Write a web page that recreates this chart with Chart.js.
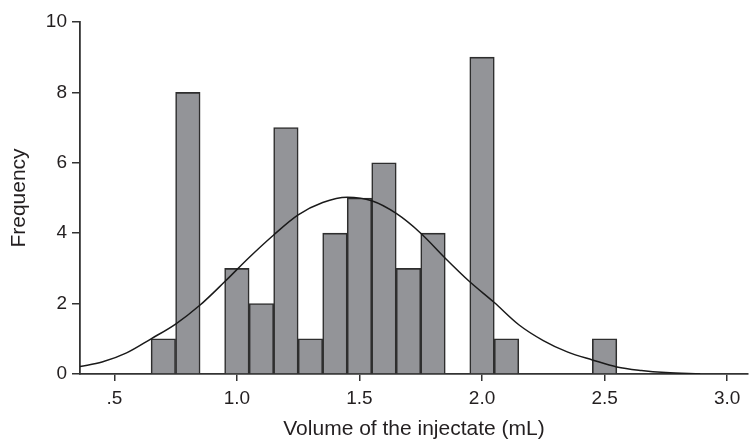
<!DOCTYPE html>
<html>
<head>
<meta charset="utf-8">
<script src="https://cdn.jsdelivr.net/npm/chart.js@4/dist/chart.umd.min.js"></script>
<style>
  html, body { margin: 0; padding: 0; background: #fff; }
  #wrap { width: 749px; height: 440px; position: relative; }
</style>
</head>
<body>
<div id="wrap"><canvas id="hist"></canvas></div>
<script>
// histogram bins (bin centre, mL) and counts
const binCenters = [0.7, 0.8, 1.0, 1.1, 1.2, 1.3, 1.4, 1.5, 1.6, 1.7, 1.8, 2.0, 2.1, 2.5];
const binCounts  = [1,   8,   3,   2,   7,   1,   4,   5,   6,   3,   4,   9,   1,   1];

// fitted normal curve
const curveX = [0.36, 0.45, 0.55, 0.65, 0.75, 0.85, 0.95, 1.05, 1.15, 1.25, 1.35, 1.45, 1.55, 1.65, 1.75, 1.85, 1.95, 2.05, 2.15, 2.25, 2.35, 2.45, 2.55, 2.65, 2.75, 2.89];
const curveY = [0.21, 0.34, 0.6, 1.0, 1.42, 1.96, 2.62, 3.31, 3.95, 4.52, 4.87, 5.02, 4.92, 4.56, 4.0, 3.29, 2.62, 2.03, 1.4, 0.95, 0.62, 0.4, 0.2, 0.1, 0.04, 0.0];

// axis ticks
const xTicks = [0.5, 1.0, 1.5, 2.0, 2.5, 3.0];
const xTickLabels = ['.5', '1.0', '1.5', '2.0', '2.5', '3.0'];

const textColor = '#231f20';
const axisColor = '#333333';
const fontFamily = '"Liberation Sans", Arial, Helvetica, sans-serif';

const ctx = document.getElementById('hist').getContext('2d');

new Chart(ctx, {
    data: {
        datasets: [
            {
                type: 'line',
                data: curveX.map((x, i) => ({ x: x, y: curveY[i] })),
                borderColor: '#1a1a1a',
                borderWidth: 1.5,
                pointRadius: 0,
                fill: false,
                cubicInterpolationMode: 'monotone',
                order: 0
            },
            {
                type: 'bar',
                data: binCenters.map((x, i) => ({ x: x, y: binCounts[i] })),
                backgroundColor: '#939498',
                borderColor: '#2e2e2e',
                borderWidth: 1.6,
                barPercentage: 1,
                categoryPercentage: 1,
                order: 1
            }
        ]
    },
    options: {
        responsive: true,
        maintainAspectRatio: false,
        animation: false,
        layout: { padding: { top: 22, right: 1, left: 0, bottom: 0 } },
        plugins: {
            legend: { display: false },
            tooltip: { enabled: false }
        },
        scales: {
            x: {
                type: 'linear',
                min: 0.36,
                max: 3.085,
                offset: false,
                afterBuildTicks: (scale) => {
                    scale.ticks = xTicks.map(v => ({ value: v }));
                },
                afterFit: (scale) => { scale.height = 66; },
                grid: {
                    offset: false,
                    drawOnChartArea: false,
                    drawTicks: true,
                    tickLength: 7,
                    color: axisColor,
                    lineWidth: 1.5
                },
                border: { display: true, color: axisColor, width: 1.8 },
                ticks: {
                    autoSkip: false,
                    maxRotation: 0,
                    padding: 6,
                    color: textColor,
                    font: { family: fontFamily, size: 19 },
                    callback: (value) => {
                        const i = xTicks.findIndex(t => Math.abs(t - value) < 1e-6);
                        return i >= 0 ? xTickLabels[i] : '';
                    }
                },
                title: {
                    display: true,
                    text: 'Volume of the injectate (mL)',
                    color: textColor,
                    font: { family: fontFamily, size: 21, lineHeight: 1 },
                    padding: { top: 0, bottom: 0 }
                }
            },
            y: {
                min: 0,
                max: 10,
                afterFit: (scale) => { scale.width = 80; },
                grid: {
                    drawOnChartArea: false,
                    drawTicks: true,
                    tickLength: 8,
                    color: axisColor,
                    lineWidth: 1.5
                },
                border: { display: true, color: axisColor, width: 1.8 },
                ticks: {
                    stepSize: 2,
                    padding: 5,
                    color: textColor,
                    font: { family: fontFamily, size: 19 }
                },
                title: {
                    display: true,
                    text: 'Frequency',
                    color: textColor,
                    font: { family: fontFamily, size: 21, lineHeight: 1 },
                    padding: { top: 9, bottom: 0 }
                }
            }
        }
    }
});
</script>
</body>
</html>
